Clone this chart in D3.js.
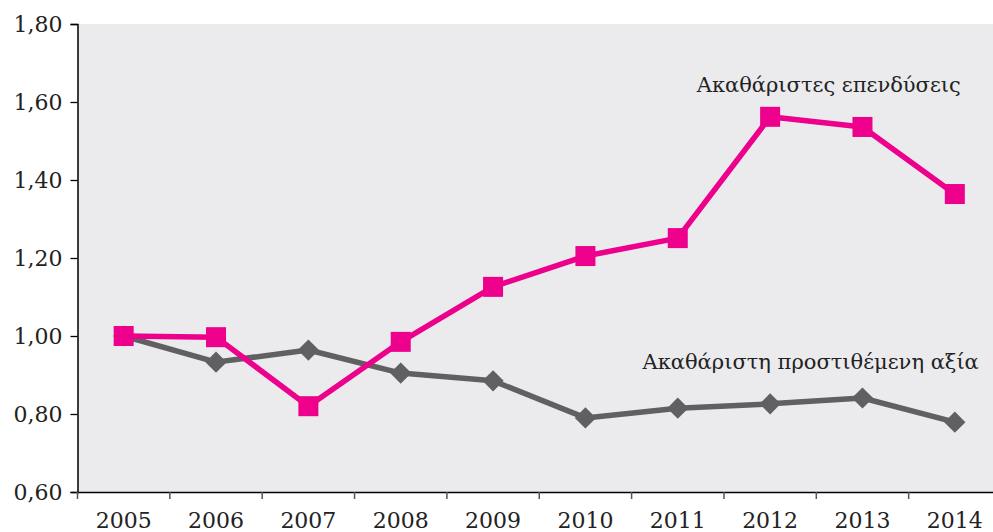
<!DOCTYPE html>
<html><head><meta charset="utf-8">
<script src="https://cdn.jsdelivr.net/npm/d3@7"></script>
<style>body{margin:0;background:#fff;} svg{display:block;}</style>
</head><body>
<svg id="c" width="993" height="532"></svg>
<script>
const years = ["2005","2006","2007","2008","2009","2010","2011","2012","2013","2014"];
const investment = [1.00, 0.997, 0.82, 0.985, 1.126, 1.205, 1.251, 1.562, 1.536, 1.364];
const valueAdded = [1.00, 0.933, 0.964, 0.905, 0.885, 0.79, 0.815, 0.826, 0.841, 0.779];
const yTicks = [0.6, 0.8, 1.0, 1.2, 1.4, 1.6, 1.8];
const labelInvestment = "Ακαθάριστες επενδύσεις";
const labelValueAdded = "Ακαθάριστη προστιθέμενη αξία";

const svg = d3.select("#c");
const L = 77.5, T = 24, B = 492, R = 1001;
const x = d3.scaleBand().domain(years).range([L, R]);
const y = d3.scaleLinear().domain([0.6, 1.8]).range([B, T]);
const font = "DejaVu Serif";

svg.append("rect").attr("x", L).attr("y", T).attr("width", R - L).attr("height", B - T).attr("fill", "#ebebed");

// y axis
const ya = svg.append("g").attr("transform", `translate(${L},0)`)
  .call(d3.axisLeft(y).tickValues(yTicks).tickSize(7).tickPadding(8)
    .tickFormat(d => d3.format(".2f")(d).replace(".", ",")));
ya.select(".domain").attr("stroke", "#000").attr("stroke-width", 1.5);
ya.selectAll(".tick line").attr("stroke", "#000").attr("stroke-width", 1.3);
ya.selectAll("text").attr("font-family", font).attr("font-size", 22).attr("fill", "#222");

// x axis
const xa = svg.append("g").attr("transform", `translate(0,${B})`)
  .call(d3.axisBottom(x).tickSize(0).tickPadding(20));
xa.select(".domain").attr("stroke", "#000").attr("stroke-width", 1.5);
xa.selectAll("text").attr("font-family", font).attr("font-size", 22).attr("fill", "#222");
xa.selectAll(".sep").data(years).enter().append("line")
  .attr("x1", d => x(d)).attr("x2", d => x(d))
  .attr("y1", 0).attr("y2", 7).attr("stroke", "#555").attr("stroke-width", 1.5);

const cx = d => x(d) + x.bandwidth() / 2;
const line = d3.line().x((d, i) => cx(years[i])).y(d => y(d));

// gray series
svg.append("path").datum(valueAdded).attr("d", line).attr("fill", "none")
  .attr("stroke", "#606062").attr("stroke-width", 5.5).attr("stroke-linejoin", "round");
svg.selectAll(".dia").data(valueAdded).enter().append("path")
  .attr("d", d3.symbol().type(d3.symbolSquare).size(225))
  .attr("transform", (d, i) => `translate(${cx(years[i])},${y(d)}) rotate(45)`)
  .attr("fill", "#606062");

// pink series
svg.append("path").datum(investment).attr("d", line).attr("fill", "none")
  .attr("stroke", "#ec008c").attr("stroke-width", 5.5).attr("stroke-linejoin", "round");
svg.selectAll(".sq").data(investment).enter().append("rect")
  .attr("x", (d, i) => cx(years[i]) - 10).attr("y", d => y(d) - 10)
  .attr("width", 20).attr("height", 20).attr("fill", "#ec008c");

// labels
svg.append("text").attr("x", cx("2014") + 6).attr("y", y(1.625))
  .attr("text-anchor", "end").attr("font-family", font).attr("font-size", 21).attr("fill", "#222")
  .text(labelInvestment);
svg.append("text").attr("x", cx("2014") + 24).attr("y", y(0.915))
  .attr("text-anchor", "end").attr("font-family", font).attr("font-size", 21).attr("fill", "#222")
  .text(labelValueAdded);
</script>
</body></html>
